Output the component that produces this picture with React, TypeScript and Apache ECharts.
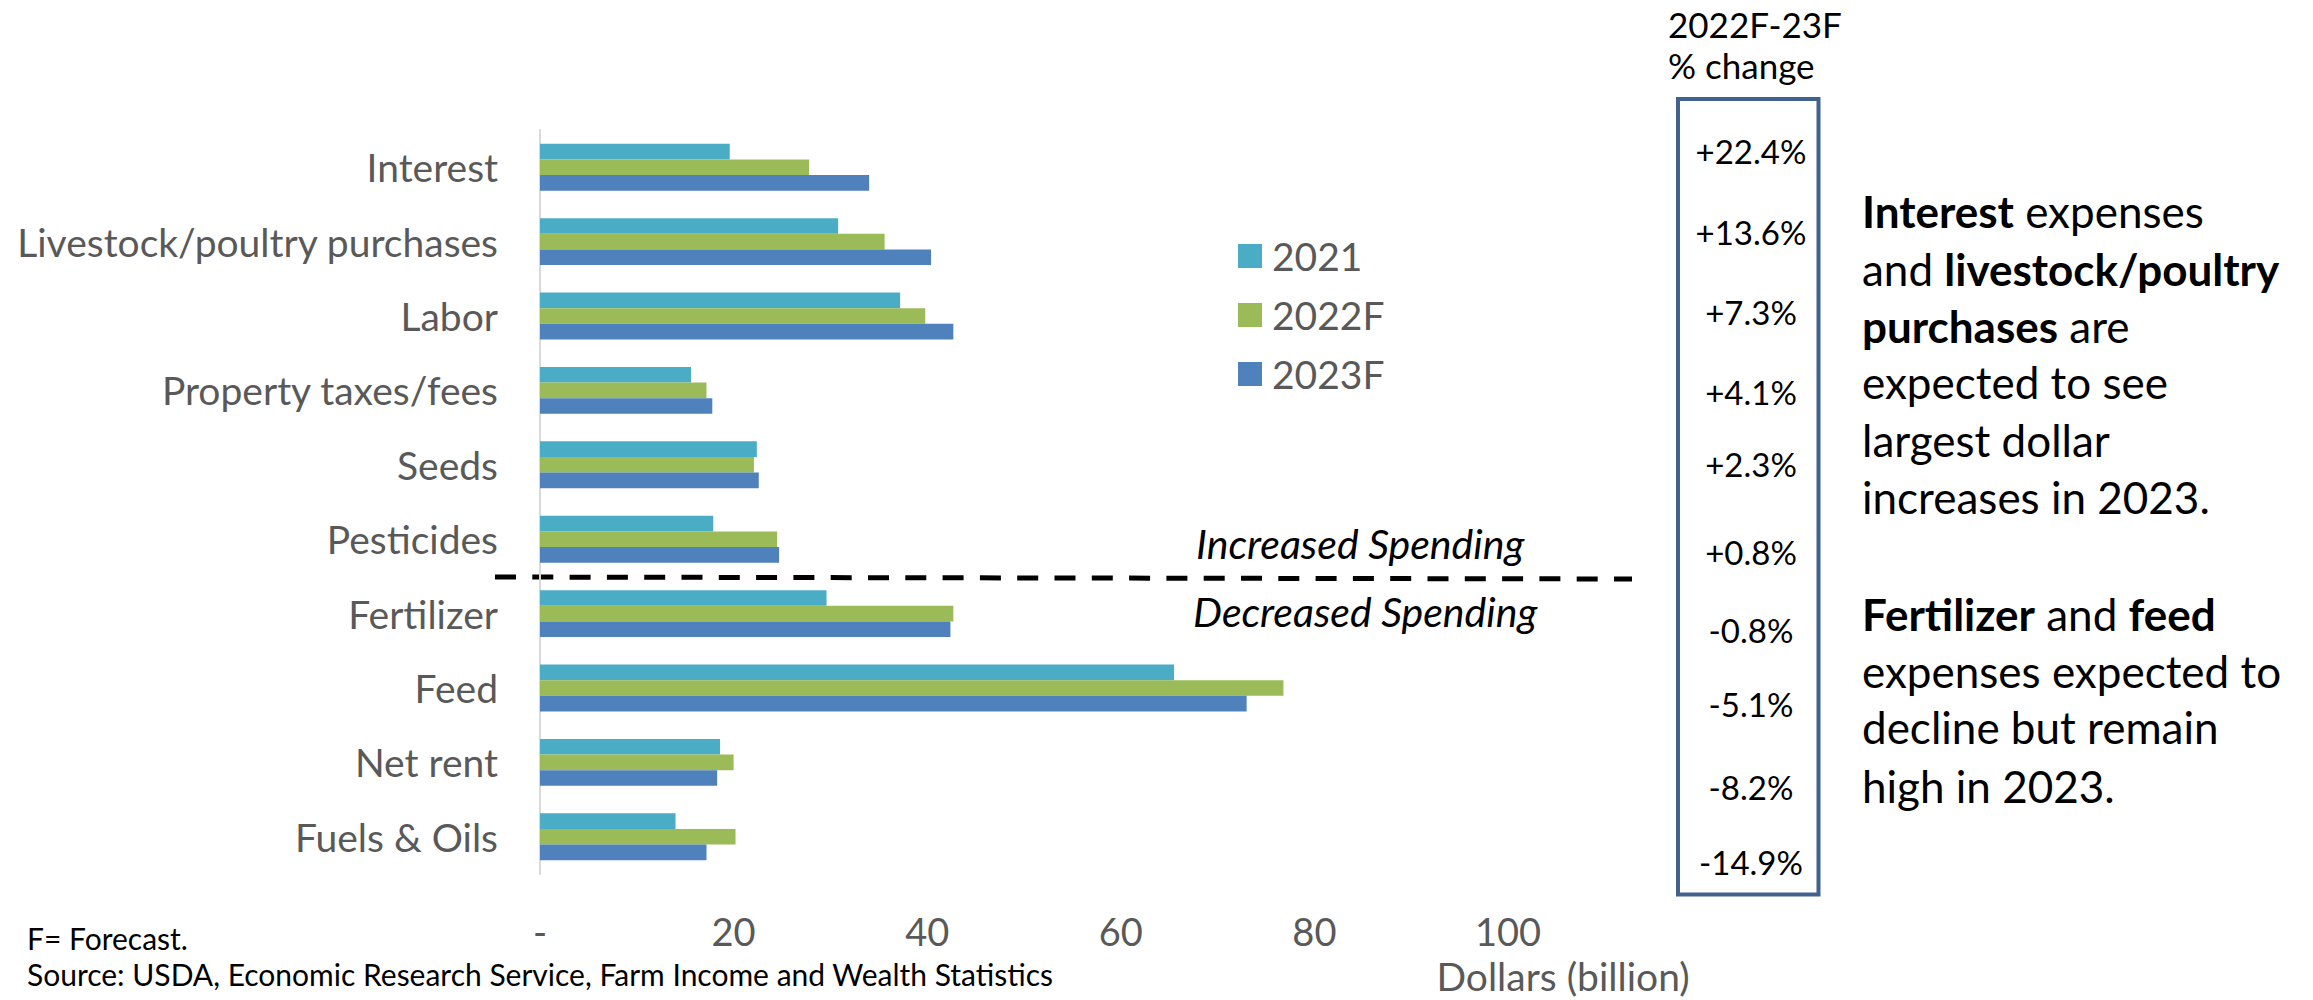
import React, { useEffect, useRef } from 'react';
import * as echarts from 'echarts';

// ---------- data ----------
const categories = [
  'Interest',
  'Livestock/poultry purchases',
  'Labor',
  'Property taxes/fees',
  'Seeds',
  'Pesticides',
  'Fertilizer',
  'Feed',
  'Net rent',
  'Fuels & Oils',
];
const seriesNames = ['2021', '2022F', '2023F'];
const values2021 = [19.6, 30.8, 37.2, 15.6, 22.4, 17.9, 29.6, 65.5, 18.6, 14.0];
const values2022F = [27.8, 35.6, 39.8, 17.2, 22.1, 24.5, 42.7, 76.8, 20.0, 20.2];
const values2023F = [34.0, 40.4, 42.7, 17.8, 22.6, 24.7, 42.4, 73.0, 18.3, 17.2];

const pctHeader = ['2022F-23F', '% change'];
const pctLabels = ['+22.4%', '+13.6%', '+7.3%', '+4.1%', '+2.3%', '+0.8%', '-0.8%', '-5.1%', '-8.2%', '-14.9%'];
const para1 = [
  '{b|Interest} expenses',
  'and {b|livestock/poultry}',
  '{b|purchases} are',
  'expected to see',
  'largest dollar',
  'increases in 2023.',
];
const para2 = [
  '{b|Fertilizer} and {b|feed}',
  'expenses expected to',
  'decline but remain',
  'high in 2023.',
];
const spendingLabels = ['Increased Spending', 'Decreased Spending'];
const footnotes = ['F= Forecast.', 'Source: USDA, Economic Research Service, Farm Income and Wealth Statistics'];
const axisName = 'Dollars (billion)';

// ---------- layout / style ----------
const COLORS = ['#4BACC6', '#9BBB59', '#4F81BD'];
const FONT = 'Lato, "Open Sans", sans-serif';
const GREY = '#595959';
const pctY = [150.5, 231.5, 311.5, 391.5, 464, 552, 629.5, 704, 786.5, 861.5];
const para1Y = [211.2, 269.2, 326.2, 382.2, 440.2, 497.2];
const para2Y = [614.2, 671.2, 727.2, 786.2];

export default function App() {
  const ref = useRef<HTMLDivElement>(null);

  useEffect(() => {
    if (!ref.current) return;
    const chart = echarts.init(ref.current, undefined, { renderer: 'svg' });

    const txt = (text: string, x: number, y: number, size: number, extra: any = {}) => ({
      type: 'text',
      x,
      y,
      silent: true,
      style: {
        text,
        fontSize: size,
        fontFamily: FONT,
        fill: '#000',
        align: 'left',
        verticalAlign: 'middle',
        ...extra,
      },
    });

    const richB = (size: number) => ({
      b: { fontWeight: 'bold', fontSize: size, fontFamily: FONT, fill: '#000' },
    });

    const graphics: any[] = [];
    // header
    graphics.push(txt(pctHeader[0], 1668, 24, 35));
    graphics.push(txt(pctHeader[1], 1668, 65, 35));
    // box
    graphics.push({
      type: 'rect',
      silent: true,
      shape: { x: 1678, y: 99, width: 140.5, height: 795.5 },
      style: { fill: 'none', stroke: '#41618f', lineWidth: 4 },
    });
    pctLabels.forEach((p, i) => graphics.push(txt(p, 1751, pctY[i], 33, { align: 'center' })));
    para1.forEach((t, i) => graphics.push(txt(t, 1862, para1Y[i], 44, { rich: richB(44) })));
    para2.forEach((t, i) => graphics.push(txt(t, 1862, para2Y[i], 44, { rich: richB(44) })));
    // dashed divider
    graphics.push({
      type: 'line',
      silent: true,
      shape: { x1: 495, y1: 577, x2: 1632, y2: 579 },
      style: { stroke: '#000', lineWidth: 5, lineDash: [21, 16.3], lineCap: 'butt' },
    });
    graphics.push(txt(spendingLabels[0], 1196, 543.5, 41, { fontStyle: 'italic' }));
    graphics.push(txt(spendingLabels[1], 1193, 611.5, 41, { fontStyle: 'italic' }));
    // axis name
    graphics.push(txt(axisName, 1563, 976, 39, { align: 'center', fill: GREY }));
    // footnotes
    graphics.push(txt(footnotes[0], 27, 938, 30));
    graphics.push(txt(footnotes[1], 27, 974, 30));

    const values = [values2021, values2022F, values2023F];

    chart.setOption({
      animation: false,
      backgroundColor: '#fff',
      grid: { left: 540, top: 130, width: 968, height: 744, containLabel: false },
      xAxis: {
        type: 'value',
        min: 0,
        max: 100,
        interval: 20,
        axisLine: { show: false },
        axisTick: { show: false },
        splitLine: { show: false },
        axisLabel: {
          formatter: (v: number) => (v === 0 ? '-' : String(v)),
          fontSize: 38,
          fontFamily: FONT,
          color: GREY,
          margin: 38,
        },
      },
      yAxis: {
        type: 'category',
        data: categories,
        inverse: true,
        axisLine: { show: true, lineStyle: { color: '#d9d9d9', width: 2 } },
        axisTick: { show: false },
        splitLine: { show: false },
        axisLabel: { fontSize: 39, fontFamily: FONT, color: GREY, margin: 42, padding: [0, 0, 5, 0] },
      },
      legend: {
        orient: 'vertical',
        left: 1233,
        top: 231.5,
        itemWidth: 24,
        itemHeight: 24,
        itemGap: 20,
        icon: 'rect',
        data: seriesNames,
        textStyle: { fontSize: 39, fontFamily: FONT, color: GREY, padding: [0, 0, 0, 5] },
      },
      series: seriesNames.map((name, i) => ({
        name,
        type: 'bar',
        data: values[i],
        barGap: '0%',
        barCategoryGap: '37%',
        itemStyle: { color: COLORS[i] },
      })),
      graphic: graphics,
    });

    return () => chart.dispose();
  }, []);

  return (
    <div
      ref={ref}
      style={{ position: 'fixed', left: 0, top: 0, width: 2313, height: 1000, background: '#fff' }}
    />
  );
}
